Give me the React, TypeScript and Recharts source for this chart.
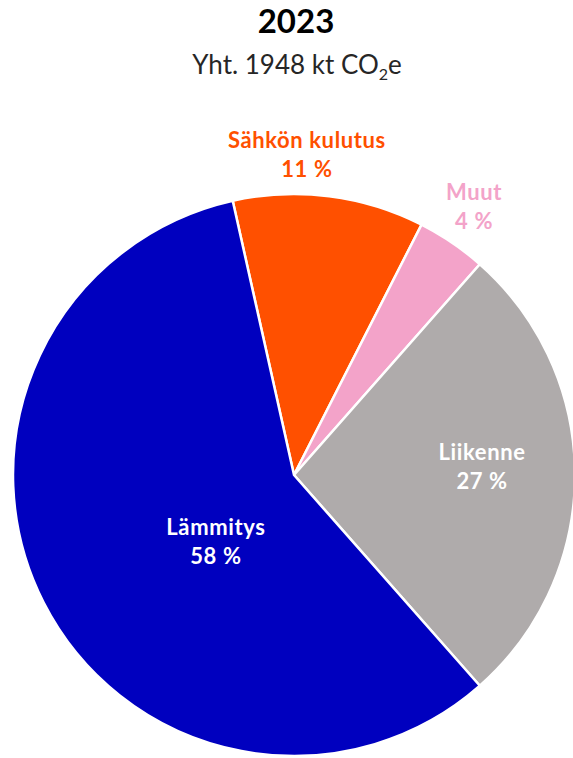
import React from "react";
import { PieChart, Pie, Cell } from "recharts";

const categories = ["Sähkön kulutus", "Muut", "Liikenne", "Lämmitys"];
const shares = [11, 4, 27, 58];
const colors = ["#FF5000", "#F3A3C9", "#AFABAB", "#0000BF"];
const labelColors = ["#FF5000", "#F3A3C9", "#FFFFFF", "#FFFFFF"];

const title = "2023";
const totalKt = 1948;

// label placement: radial factor of outer radius and angle offset (degrees)
const labelLayout: Record<string, { f: number; da: number }> = {
  "Sähkön kulutus": { f: 1.143, da: 4.9 },
  Muut: { f: 1.152, da: 0.4 },
  Liikenne: { f: 0.67, da: 2.7 },
  Lämmitys: { f: 0.364, da: 13.2 },
};

const data = categories.map((name, i) => ({ name, value: shares[i] }));

const FONT = "Lato, 'Open Sans', sans-serif";

const renderLabel = (props: any) => {
  const { cx, cy, midAngle, outerRadius, index } = props;
  const name = categories[index];
  const lay = labelLayout[name];
  const ang = ((midAngle + lay.da) * Math.PI) / 180;
  const r = outerRadius * lay.f;
  const x = cx + r * Math.cos(ang);
  const y = cy - r * Math.sin(ang);
  return (
    <text
      x={x}
      y={y}
      textAnchor="middle"
      fill={labelColors[index]}
      fontFamily={FONT}
      fontWeight={700}
      fontSize={22}
      letterSpacing={0.6}
    >
      <tspan x={x} dy={-6}>{name}</tspan>
      <tspan x={x} dy={29}>{`${shares[index]} %`}</tspan>
    </text>
  );
};

export default function App() {
  return (
    <div style={{ position: "absolute", left: 0, top: 0, width: 573, height: 758, background: "#fff" }}>
      <PieChart
        width={573}
        height={758}
        margin={{ top: 0, right: 0, bottom: 0, left: 0 }}
        style={{ position: "absolute", left: 0, top: 0 }}
      >
        <Pie
          data={data}
          dataKey="value"
          nameKey="name"
          cx={294}
          cy={475}
          outerRadius={281}
          startAngle={102.6}
          endAngle={-257.4}
          stroke="#FFFFFF"
          strokeWidth={2.5}
          label={renderLabel}
          labelLine={false}
          isAnimationActive={false}
        >
          {data.map((d, i) => (
            <Cell key={d.name} fill={colors[i]} />
          ))}
        </Pie>
      </PieChart>
      <svg width={573} height={90} style={{ position: "absolute", left: 0, top: 0 }}>
        <text
          x={296}
          y={33}
          textAnchor="middle"
          fontFamily={FONT}
          fontWeight={700}
          fontSize={33}
          fill="#000"
        >
          {title}
        </text>
        <text x={297} y={74} textAnchor="middle" fontFamily={FONT} fontSize={26} fill="#262626">
          {`Yht. ${totalKt} kt CO`}
          <tspan fontSize={16} dy={6}>2</tspan>
          <tspan dy={-6}>e</tspan>
        </text>
      </svg>
    </div>
  );
}
